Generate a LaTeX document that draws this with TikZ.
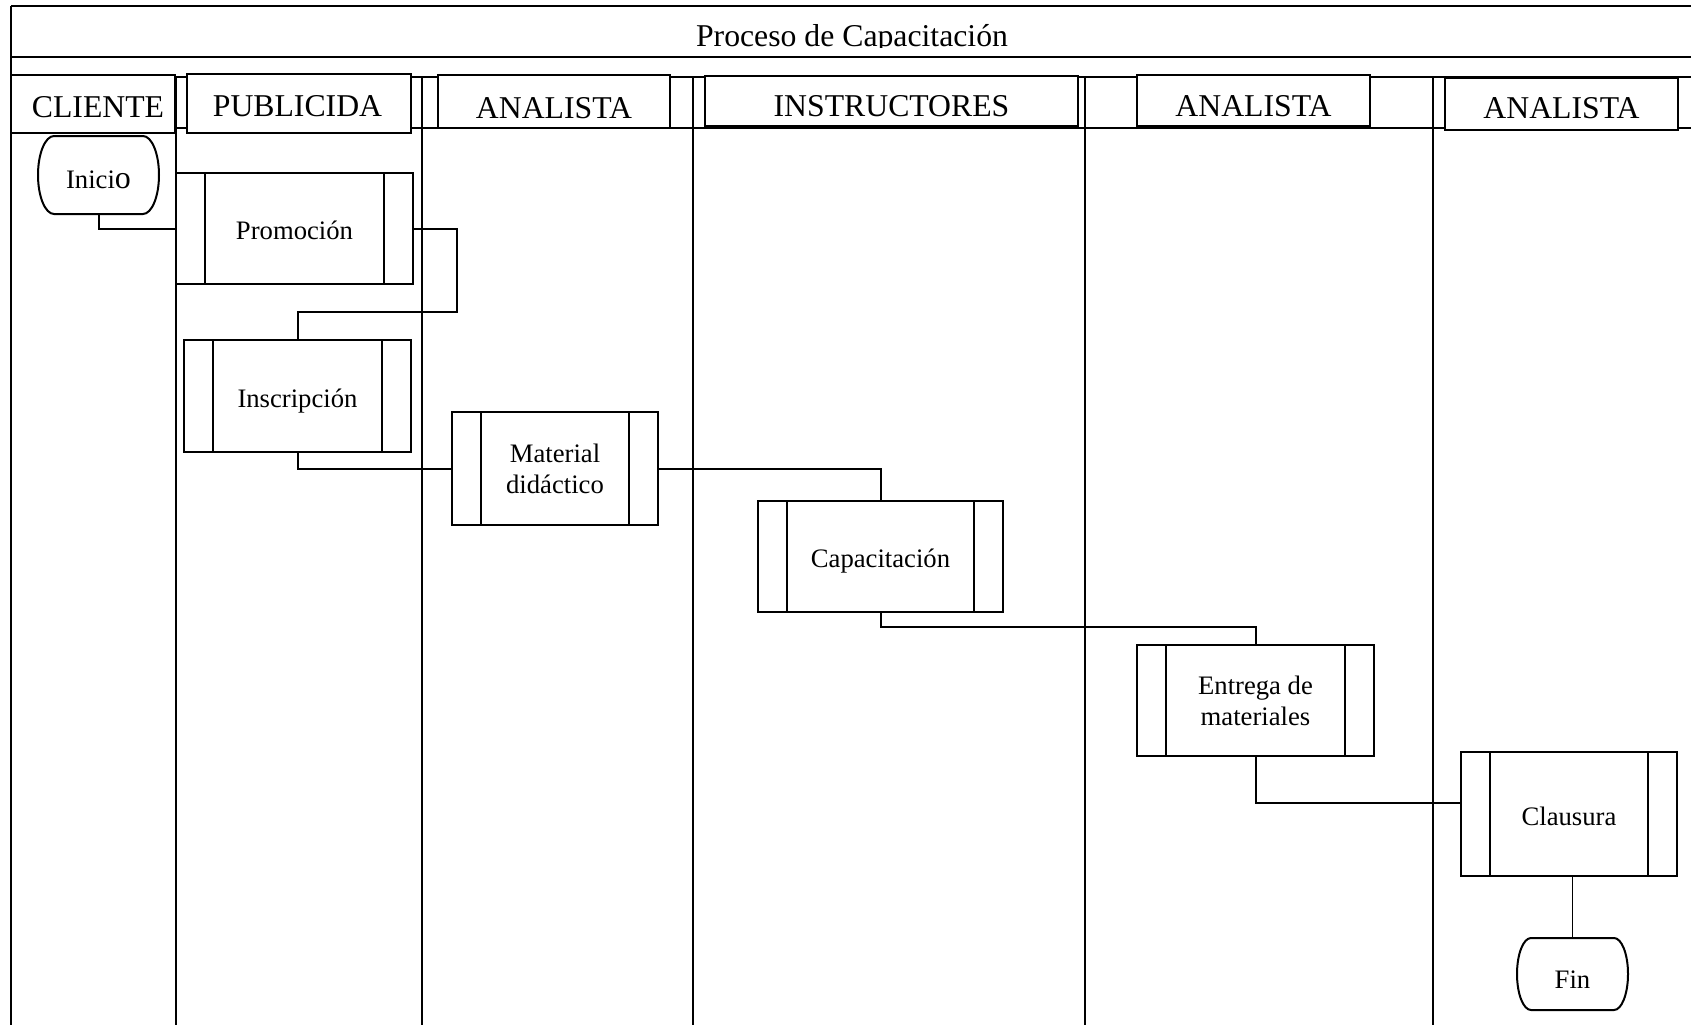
\documentclass[tikz,border=0pt]{standalone}
\usepackage{fontspec}
\setmainfont{Liberation Serif}
\newcommand\hdfont{\fontsize{23.8}{28}\selectfont}
\newcommand\ndfont{\fontsize{20}{23.3}\selectfont}
\begin{document}
\begin{tikzpicture}[x=0.75pt,y=-0.75pt,line width=1.5pt,
  hbox/.style={draw,fill=white,inner sep=0pt},
  htext/.style={anchor=base,font=\hdfont,inner sep=0pt},
  proc/.style={draw,fill=white,inner sep=0pt,align=center,font=\ndfont,
    path picture={
      \draw[line width=1.5pt] ([xshift=21.75pt]path picture bounding box.north west) -- ([xshift=21.75pt]path picture bounding box.south west);
      \draw[line width=1.5pt] ([xshift=-21.75pt]path picture bounding box.north east) -- ([xshift=-21.75pt]path picture bounding box.south east);}},
  oneline/.style={text height=17pt,text depth=0pt},
  term/.style={inner sep=0pt,font=\ndfont,text depth=0pt},
  conn/.style={line width=1.5pt},
  thin/.style={line width=0.75pt}]
\useasboundingbox (0,0) rectangle (1691,1024);

% title band
\draw (11,6) -- (1700,6);
\draw (11,57) -- (1700,57);
\draw (11,6) -- (11,1030);
\begin{scope}
  \clip (11,7) rectangle (1691,48);
  \node[htext] (title) at (852,47) {Proceso de Capacitación};
\end{scope}

% header band and lanes
\draw (11,77) -- (1700,77);
\draw (11,128) -- (1700,128);
\foreach \lx in {175.5,421.5,693,1084.5,1433}
  \draw (\lx,77) -- (\lx,1030);

% header boxes
\node[hbox,minimum width=123pt,minimum height=43.5pt] (hcli) at (93,104) {};
\node[htext] (tcli) at (98,117.5) {CLIENTE};
\node[hbox,minimum width=168pt,minimum height=44.25pt] (hpub) at (299,103.5) {};
\node[htext] (tpub) at (297.5,116) {PUBLICIDA};
\node[hbox,minimum width=174pt,minimum height=39.75pt] (han1) at (554,101.5) {};
\node[htext] (tan1) at (554,118) {ANALISTA};
\node[hbox,minimum width=279.75pt,minimum height=37.5pt] (hins) at (891.5,101) {};
\node[htext] (tins) at (891.5,116) {INSTRUCTORES};
\node[hbox,minimum width=174.75pt,minimum height=38.25pt] (han2) at (1253.5,100.5) {};
\node[htext] (tan2) at (1253.5,116.5) {ANALISTA};
\node[hbox,minimum width=174.75pt,minimum height=39pt] (han3) at (1561.5,104) {};
\node[htext] (tan3) at (1561.5,118.5) {ANALISTA};

% terminators
\draw[fill=white] (54,136) -- (143,136) .. controls (151.8,136) and (159,153.5) .. (159,175)
  .. controls (159,196.5) and (151.8,214) .. (143,214) -- (54,214)
  .. controls (45.2,214) and (38,196.5) .. (38,175)
  .. controls (38,153.5) and (45.2,136) .. (54,136) -- cycle;
\node[term,text height=19.7pt,minimum width=90.75pt,minimum height=58.5pt] (inicio) at (98.5,175) {Inici{\fontsize{24}{24}\selectfont o}};

\draw[fill=white] (1531,938) -- (1614,938) .. controls (1621.7,938) and (1628,954.1) .. (1628,974)
  .. controls (1628,993.9) and (1621.7,1010) .. (1614,1010) -- (1531,1010)
  .. controls (1523.3,1010) and (1517,993.9) .. (1517,974)
  .. controls (1517,954.1) and (1523.3,938) .. (1531,938) -- cycle;
\node[term,text height=21.5pt,minimum width=83.25pt,minimum height=54pt] (fin) at (1572.5,974) {Fin};

% process boxes
\node[proc,oneline,minimum width=177.75pt,minimum height=83.25pt] (promo) at (294.5,228.5) {Promoción};
\node[proc,oneline,minimum width=170.25pt,minimum height=84pt] (insc) at (297.5,396) {Inscripción};
\node[proc,minimum width=154.5pt,minimum height=84.75pt] (mat) at (555,468.5) {Material\\didáctico};
\node[proc,oneline,minimum width=183.75pt,minimum height=83.25pt] (cap) at (880.5,556.5) {Capacitación};
\node[proc,minimum width=177.75pt,minimum height=83.25pt] (ent) at (1255.5,700.5) {Entrega de\\materiales};
\node[proc,oneline,minimum width=162pt,minimum height=93pt] (claus) at (1569,814) {Clausura};

% connectors
\coordinate (c1) at (457,312);
\coordinate (c2) at (1255.5,627);
\coordinate (c3) at (1255.5,803);
\draw[conn] (inicio.south) |- (promo.west);
\draw[conn] (promo.east) -| (c1) -| (insc.north);
\draw[conn] (insc.south) |- (mat.west);
\draw[conn] (mat.east) -| (cap.north);
\draw[conn] (cap.south) |- (c2) -- (ent.north);
\draw[conn] (ent.south) -- (c3) -- (c3 -| claus.west);
\draw[thin] (fin.north) -- (fin.north |- claus.south);
\end{tikzpicture}
\end{document}
